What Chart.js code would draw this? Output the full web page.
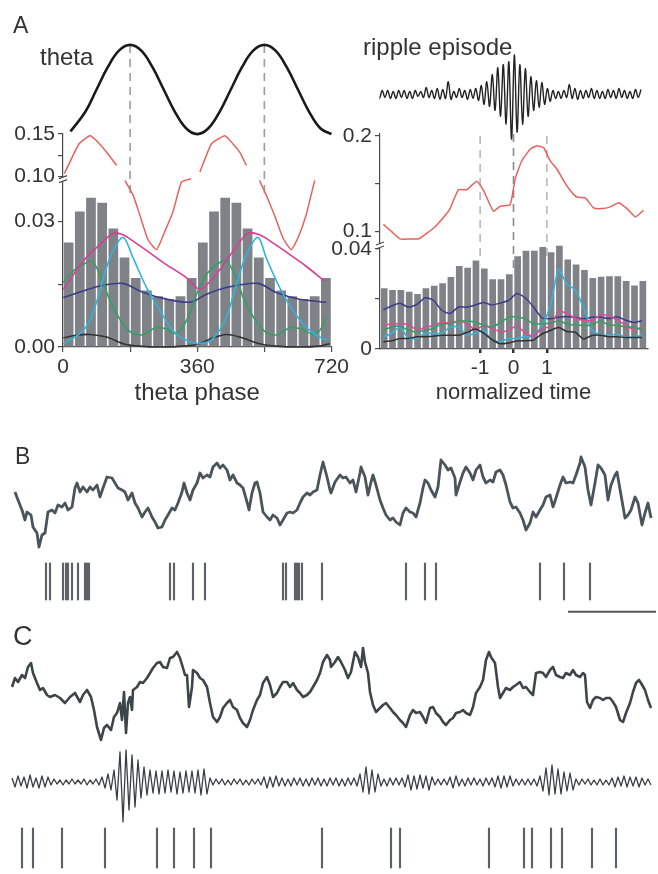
<!DOCTYPE html>
<html><head><meta charset="utf-8">
<script src="https://cdn.jsdelivr.net/npm/chart.js@4/dist/chart.umd.min.js"></script>
<style>
html,body{margin:0;padding:0;background:#fff;}
body{width:658px;height:874px;position:relative;overflow:hidden;font-family:'Liberation Sans',Arial,sans-serif;color:#333;}
canvas{position:absolute;}
.lbl{position:absolute;line-height:1;white-space:nowrap;color:#333;}
</style></head><body>
<canvas id="aL" width="352" height="410" style="left:0;top:0"></canvas>
<canvas id="aR" width="338" height="410" style="left:320px;top:0"></canvas>
<canvas id="bT" width="658" height="120" style="left:0;top:440px"></canvas>
<canvas id="bS" width="658" height="60" style="left:0;top:560px"></canvas>
<canvas id="cT" width="658" height="140" style="left:0;top:620px"></canvas>
<canvas id="cR" width="658" height="85" style="left:0;top:745px"></canvas>
<canvas id="cS" width="658" height="49" style="left:0;top:825px"></canvas>
<div class="lbl" style="left:13px;top:14px;font-size:23px">A</div>
<div class="lbl" style="left:40px;top:45px;font-size:24px">theta</div>
<div class="lbl" style="left:363px;top:35px;font-size:24px">ripple episode</div>
<div class="lbl" style="left:15px;top:445px;font-size:23px">B</div>
<div class="lbl" style="left:13px;top:623px;font-size:27px">C</div>
<script>
// ---------- Panel A, left: theta phase ----------
const phaseTicks = [0, 180, 360, 540, 720];
const phaseLabels = ['0', '', '360', '', '720'];
const leftLowTicks = [0, 0.015, 0.03];
const leftLowLabels = ['0.00', '', '0.03'];
const leftHighTicks = [0.10, 0.125, 0.15];
const leftHighLabels = ['0.10', '', '0.15'];
const thetaPeakPhases = [180, 540];

const thetaPhase = [20, 60, 90, 120, 150, 180, 210, 240, 270, 300, 330, 360, 390, 420, 450, 480, 510, 540, 570, 600, 630, 660, 690, 720];
const thetaVal = [-0.94, -0.5, 0, 0.5, 0.87, 1, 0.87, 0.5, 0, -0.5, -0.87, -1, -0.87, -0.5, 0, 0.5, 0.87, 1, 0.87, 0.5, 0, -0.5, -0.87, -1];

const leftBinPhase = [15, 45, 75, 105, 135, 165, 195, 225, 255, 285, 315, 345, 375, 405, 435, 465, 495, 525, 555, 585, 615, 645, 675, 705];
const leftBinRate = [0.0250, 0.0324, 0.0357, 0.0345, 0.0283, 0.0214, 0.0165, 0.0135, 0.0121, 0.0115, 0.0121, 0.0165,
                     0.0250, 0.0324, 0.0357, 0.0345, 0.0283, 0.0214, 0.0165, 0.0135, 0.0121, 0.0115, 0.0121, 0.0165];

const leftRed = [[3.6,.1035],[42.8,.1384],[72.3,.148],[90,.1422],[117,.1287],[144,.1132],[155,null],[166,.0957],[188,.0783],[206,.055],[228,.0259],[251,.0143],[273,.0357],[295,.0589],[318,.0938],[344,.0977],[355,null],[367,.1054],[398,.1384],[434,.148],[456,.1384],[474,.1287],[492,.1132],[510,null],[527,.0957],[545,.0783],[567,.055],[590,.0279],[612,.0143],[630,.0279],[652,.055],[675,.0957]];
const leftMagenta = [[1,.0138],[54,.0205],[99,.0245],[135,.0272],[161,.0268],[188,.0253],[233,.0225],[277,.0197],[331,.0166],[367,.0138],[411,.0174],[456,.0229],[496,.0272],[527,.0268],[563,.0249],[608,.0221],[652,.0193],[701,.0158]];
const leftCyan = [[1,.0008],[45,.0032],[72,.0063],[99,.0134],[126,.0213],[161,.0262],[188,.0213],[224,.0142],[260,.0087],[295,.0039],[331,.0016],[367,.0008],[402,.0020],[438,.0071],[465,.0150],[492,.0221],[523,.0262],[545,.0213],[581,.0142],[617,.0087],[652,.0047],[688,.0024],[710,.0017]];
const leftGreen = [[1,.0154],[28,.0182],[54,.0197],[77,.0205],[99,.0174],[126,.0111],[161,.0055],[188,.0032],[215,.0030],[251,.0047],[277,.0043],[304,.0032],[331,.0063],[358,.0126],[385,.0174],[411,.0197],[438,.0205],[460,.0174],[487,.0111],[523,.0055],[550,.0032],[576,.0030],[612,.0047],[639,.0043],[666,.0032],[688,.0039],[706,.0071]];
const leftNavy = [[1,.0118],[54,.0134],[99,.0146],[161,.0152],[206,.0134],[260,.0118],[340,.0107],[385,.0126],[438,.0142],[523,.0152],[572,.0130],[634,.0114],[706,.0107]];
const leftBlack = [[1,.0022],[37,.0028],[72,.0030],[117,.0024],[161,.0008],[206,.0002],[260,0],[322,.0002],[367,.0008],[402,.0022],[438,.0030],[474,.0024],[527,.0008],[572,.0002],[634,0],[688,.0002],[715,.0008]];

// ---------- Panel A, right: ripple-normalized time ----------
const timeTicks = [-1, 0, 1];
const timeLabels = ['-1', '0', '1'];
const rightLowTicks = [0, 0.02, 0.04];
const rightLowLabels = ['0', '', '0.04'];
const rightHighTicks = [0.1, 0.15, 0.2];
const rightHighLabels = ['0.1', '', '0.2'];
const rippleMarks = [-1, 0, 1];

const rippleT0 = -4.1, rippleDt = 0.0825;
const rippleTrace = [3,-4,4,-3,4,-4,3,-4,4,-3, 4,-4,3,-4,4,-2,3,-3,7,-3, 4,-4,6,-5,5,-4,13,-5,3,-3,
  6,-3,4,-5,5,-4,6,-6,9,-10, 13,-12,20,-16,27,-22,30,-30,33,-45, 40,-38,30,-30,26,-22,18,-16,14,-13,
  12,-10,6,-7,4,-4,3,-4,4,-3, 10,-4,6,-5,4,-4,4,-3,6,-4, 4,-4,3,-4,5,-3,4,-4,6,-3, 4,-4,3,-4,5,-3,5];

const rightBinTime = [-3.875,-3.625,-3.375,-3.125,-2.875,-2.625,-2.375,-2.125,-1.875,-1.625,-1.375,-1.125,-0.875,-0.625,-0.375,-0.125,
  0.125,0.375,0.625,0.875,1.125,1.375,1.625,1.875,2.125,2.375,2.625,2.875,3.125,3.375,3.625,3.875];
const rightBinRate = [0.0243,0.0236,0.0236,0.0229,0.0220,0.0243,0.0253,0.0263,0.0288,0.0332,0.0325,0.0354,0.0322,0.0279,0.0279,0.0299,
  0.0371,0.0393,0.0393,0.0408,0.0387,0.0413,0.0358,0.0338,0.0316,0.0284,0.0289,0.0291,0.0291,0.0272,0.0254,0.0272];

const rightRed = [[-3.9,.1076],[-3.65,.1],[-3.4,.0924],[-3.1,.0924],[-2.85,.0924],[-2.6,.0983],[-2.35,.1052],[-2.1,.1148],[-1.9,.1241],[-1.65,.1438],[-1.4,.1438],[-1.1,.1528],[-0.9,.1431],[-0.6,.1214],[-0.4,.1266],[-0.1,.1283],[0.05,.1552],[0.25,.1741],[0.5,.1862],[0.7,.1897],[0.9,.1879],[1.1,.1741],[1.3,.1655],[1.5,.1534],[1.7,.1431],[1.9,.1362],[2.15,.1352],[2.4,.1248],[2.65,.1241],[2.9,.1259],[3.15,.1303],[3.4,.1241],[3.65,.1155],[3.9,.1224]];
const rightLineTime = [-3.9,-3.65,-3.4,-3.15,-2.9,-2.65,-2.4,-2.15,-1.9,-1.65,-1.4,-1.15,-0.9,-0.65,-0.4,-0.15,0.1,0.35,0.6,0.85,1.1,1.35,1.6,1.85,2.1,2.35,2.6,2.85,3.1,3.35,3.6,3.85];
const rightNavy = [.0157,.0172,.0183,.0167,.0178,.0205,.0195,.0155,.0142,.0168,.0167,.0176,.0186,.0176,.0184,.0194,.0222,.0205,.0168,.0125,.0121,.0127,.0130,.0126,.0121,.0127,.0128,.0122,.0129,.0116,.0106,.0113];
const rightPink = [.0095,.0100,.0101,.0099,.0077,.0086,.0094,.0107,.0104,.0111,.0102,.0077,.0094,.0083,.0069,.0075,.0092,.0065,.0050,.0082,.0090,.0150,.0143,.0123,.0115,.0114,.0135,.0134,.0116,.0097,.0077,.0087];
const rightGreen = [.0075,.0088,.0091,.0075,.0068,.0075,.0082,.0101,.0101,.0113,.0112,.0108,.0095,.0088,.0104,.0127,.0128,.0121,.0100,.0101,.0104,.0112,.0101,.0095,.0095,.0095,.0113,.0096,.0095,.0088,.0088,.0076];
const rightCyan = [.0049,.0062,.0088,.0042,.0042,.0062,.0062,.0062,.0088,.0088,.0055,.0062,.0075,.0036,.0029,.0042,.0042,.0049,.0049,.0095,.0170,.0318,.0260,.0236,.0165,.0075,.0056,.0055,.0059,.0049,.0046,.0055];
const rightBlack = [.0029,.0033,.0042,.0042,.0049,.0049,.0051,.0055,.0055,.0055,.0066,.0080,.0064,.0038,.0021,.0024,.0032,.0033,.0036,.0060,.0074,.0086,.0070,.0067,.0040,.0054,.0055,.0049,.0049,.0046,.0046,.0046];

// ---------- Panel B ----------
const bLfp = [[15,8],[18,0],[22,-10],[25,-20],[27,-12],[31,-15],[33,-27],[37,-33],[39,-47],[42,-35],[45,-33],[48,-12],[52,-10],[55,-13],[58,-5],[62,-7],[65,-3],[68,-10],[72,-7],[75,12],[77,17],[80,8],[83,13],[87,8],[90,13],[93,10],[97,15],[100,3],[103,12],[107,23],[112,22],[115,17],[118,12],[122,10],[125,8],[128,0],[132,7],[135,-3],[138,-8],[142,-17],[145,-12],[148,-8],[152,-17],[155,-22],[158,-28],[162,-27],[165,-20],[168,-15],[172,-8],[175,-10],[178,-3],[182,8],[184,17],[187,7],[190,0],[193,10],[197,17],[200,27],[203,22],[207,25],[210,23],[213,33],[217,37],[220,32],[223,35],[227,30],[230,20],[233,25],[237,17],[240,15],[243,12],[247,-2],[249,-10],[252,7],[255,17],[257,18],[260,7],[263,-12],[267,-17],[270,-20],[273,-15],[277,-18],[280,-25],[283,-20],[287,-13],[290,-12],[293,-13],[297,-10],[300,-3],[303,3],[307,7],[310,5],[313,8],[317,10],[320,25],[323,38],[327,23],[330,10],
  [331,7],[335,18],[340,25],[343,22],[346,23],[350,17],[353,20],[356,8],[360,27],[361,33],[365,23],[368,5],[371,18],[373,25],[376,15],[380,0],[383,-8],[386,-15],[390,-20],[393,-18],[396,-22],[400,-25],[403,-13],[406,-8],[410,-12],[413,-13],[416,-17],[420,-3],[423,12],[425,20],[428,17],[431,10],[435,3],[438,13],[441,40],[445,35],[448,30],[451,32],[455,22],[456,5],[460,18],[463,27],[466,33],[470,27],[473,20],[476,30],[480,35],[483,23],[486,17],[490,20],[493,18],[496,28],[500,30],[503,25],[506,15],[510,-2],[513,-8],[516,-7],[520,-13],[523,-20],[526,-30],[530,-23],[533,-12],[536,-17],[540,-10],[543,-5],[546,3],[550,5],[553,-7],[556,2],[560,15],[563,23],[566,17],[570,18],[573,17],[576,25],[580,37],[581,43],[585,33],[588,10],[591,-5],[595,17],[598,35],[601,32],[605,25],[608,0],[611,15],[615,25],[617,28],[621,5],[625,-18],[628,-15],[631,-10],[635,3],[638,-3],[642,-25],[645,-13],[648,-3],[651,-18]];
const bSpikes = [46,50,63,66,68,72,78,85,87,89,170,174,193,205,283,286,295,297,299,302,322,406,425,436,540,564,590];
const scaleBarT = [568, 656];
const scaleBarLevel = -0.32;

// ---------- Panel C ----------
const cLfp = [[12,-17],[15,-8],[18,-12],[22,-5],[25,-8],[28,3],[31,7],[33,-3],[37,-13],[40,-20],[43,-18],[47,-25],[50,-27],[55,-25],[60,-28],[65,-33],[70,-27],[75,-23],[80,-32],[83,-25],[87,-20],[91,-27],[94,-40],[97,-57],[101,-70],[104,-58],[107,-55],[111,-60],[114,-47],[117,-43],[120,-33],[122,-50],[124,-22],[126,-63],[128,-33],[130,-27],[132,-40],[133,-20],[137,-17],[140,-12],[143,-13],[147,-8],[150,-3],[153,2],[157,7],[160,8],[163,3],[167,2],[170,12],[173,13],[177,18],[180,12],[183,2],[185,-5],[187,-5],[189,-37],[192,-17],[193,0],[197,-3],[200,-8],[203,-10],[207,-17],[210,-33],[213,-47],[217,-52],[220,-47],[223,-38],[227,-33],[230,-30],[233,-37],[237,-40],[240,-48],[243,-53],[247,-57],[250,-50],[253,-40],[257,-30],[260,-25],[263,-13],[267,-7],[270,-15],[273,-27],[277,-23],[280,-17],[283,-12],[287,-12],[290,-17],[293,-13],[297,-20],[300,-23],[303,-27],[307,-25],[310,-22],[313,-17],[317,-10],[320,-3],[323,8],[327,15],[330,10],
  [331,3],[335,8],[338,13],[341,8],[345,0],[348,-8],[351,-2],[355,18],[358,13],[361,3],[363,22],[365,8],[368,-3],[370,-22],[373,-35],[376,-42],[380,-38],[383,-35],[386,-33],[390,-38],[393,-42],[396,-45],[400,-50],[403,-53],[406,-57],[410,-45],[413,-40],[416,-43],[420,-42],[423,-47],[426,-53],[430,-38],[433,-37],[436,-43],[440,-47],[443,-52],[446,-55],[450,-50],[453,-48],[456,-43],[460,-42],[463,-40],[466,-43],[470,-45],[473,-37],[476,-23],[480,-17],[483,-10],[486,10],[489,18],[491,13],[495,7],[498,-17],[500,-28],[503,-23],[506,-18],[510,-20],[513,-17],[516,-15],[520,-12],[523,-18],[526,-17],[530,-22],[533,-25],[536,-3],[540,-2],[543,-3],[546,-7],[550,0],[553,3],[556,-5],[560,-7],[563,-8],[566,-3],[570,-5],[573,0],[576,-5],[580,-7],[583,-3],[585,-5],[587,-32],[590,-38],[593,-30],[596,-27],[600,-28],[603,-30],[606,-28],[610,-28],[613,-32],[616,-37],[620,-50],[623,-52],[626,-43],[630,-33],[633,-22],[636,-13],[639,-10],[641,-13],[645,-20],[648,-30],[651,-38]];
const cRippleT0 = 12, cRippleDt = 3;
const cRipple = [4,-5,6,-4,5,-6,7,-5,4,-6, 6,-5,5,-3,3,-2,2,-3,2,-2, 3,-2,2,-2,3,-3,2,-2,3,-3,
  5,-6,8,-8,12,-18,30,-40,32,-28, 27,-25,22,-16,15,-13,12,-11,11,-12, 11,-11,12,-10,11,-12,10,-11,11,-10,
  11,-11,12,-13,13,-12,4,-3,3,-2, 3,-3,2,-3,3,-2,3,-3,2,-3, 3,-2,3,-3,5,-6,5,-5,6,-4,
  4,-4,3,-4,4,-3,4,-4,3,-4, 4,-3,4,-4,3,-4,4,-3,4,-4, 3,-4,4,-3,4,-4,8,-10,15,-12,
  12,-10,8,-4,3,-4,4,-3,4,-3, 4,-5,7,-8,6,-7,7,-6,6,-8, 5,-3,3,-3,3,-3,5,-6,6,-4,
  3,-4,4,-3,4,-3,3,-4,4,-3, 4,-5,6,-6,6,-5,6,-4,3,-3, 3,-3,3,-3,3,-4,6,-9,14,-13,
  17,-12,13,-12,10,-9,9,-8,3,-3, 3,-2,3,-3,2,-3,3,-3,2,-3, 4,-5,5,-4,6,-5,5,-4,5,-5, 4,-3,3,-3];
const cSpikes = [22,33,62,105,157,174,194,211,322,391,400,489,524,532,551,562,592,616];

// ---------- styling / helpers ----------
const axisColor = '#4a4a4a';
const textColor = '#333';
Chart.defaults.font.family = "'Liberation Sans', Arial, sans-serif";
Chart.defaults.color = textColor;

function pts(pairs) { return pairs.map(p => ({x: p[0], y: p[1]})); }
function zip(xs, ys) { return xs.map((x, i) => ({x, y: ys[i]})); }

function valueAxis(stack, weight, min, max, tickVals, tickLabels, width) {
  return {
    type: 'linear', position: 'left', stack, stackWeight: weight, min, max,
    afterBuildTicks: s => { s.ticks = tickVals.map(v => ({value: v})); },
    afterFit: s => { s.width = width; },
    ticks: {callback: (v, i) => tickLabels[i], font: {size: 21}, color: textColor, padding: 3, autoSkip: false},
    grid: {drawOnChartArea: false, drawTicks: true, tickLength: 5, color: axisColor, lineWidth: 1.2},
    border: {display: true, color: axisColor, width: 1.2}
  };
}
function hiddenAxis(stack, weight, min, max, width) {
  return {type: 'linear', position: 'left', stack, stackWeight: weight, min, max,
    afterFit: s => { s.width = width; },
    ticks: {display: false}, grid: {display: false}, border: {display: false}};
}
function guides(lines) {
  return {
    id: 'guides',
    beforeDatasetsDraw(chart) {
      const ctx = chart.ctx;
      ctx.save();
      for (const g of lines) {
        const px = chart.scales.x.getPixelForValue(g.x);
        const y1 = chart.scales[g.fromAxis].getPixelForValue(g.from);
        const y2 = chart.scales[g.toAxis].getPixelForValue(g.to);
        ctx.strokeStyle = g.color; ctx.lineWidth = 1.6; ctx.setLineDash([8, 6]);
        ctx.beginPath(); ctx.moveTo(px, y1); ctx.lineTo(px, y2); ctx.stroke();
      }
      ctx.restore();
    }
  };
}
const axisBreak = {
  id: 'axisBreak',
  afterDraw(chart) {
    const ctx = chart.ctx;
    const x = chart.chartArea.left, y = chart.scales.y.top;
    ctx.save();
    ctx.fillStyle = '#fff'; ctx.fillRect(x - 5, y - 2, 10, 4);
    ctx.strokeStyle = axisColor; ctx.lineWidth = 1.1;
    ctx.beginPath();
    ctx.moveTo(x - 4, y - 1); ctx.lineTo(x + 4, y - 4);
    ctx.moveTo(x - 4, y + 3); ctx.lineTo(x + 4, y);
    ctx.stroke();
    ctx.restore();
  }
};
const base = {responsive: false, animation: false, devicePixelRatio: 1,
  plugins: {legend: {display: false}, tooltip: {enabled: false}}};
function lineDs(data, axis, color, width, order, tension) {
  return {type: 'line', data, yAxisID: axis, borderColor: color, borderWidth: width, pointRadius: 0,
          tension: tension, order, borderJoinStyle: 'round', spanGaps: false, clip: false};
}

// ---------- chart A left ----------
new Chart(document.getElementById('aL'), {
  type: 'line',
  data: {datasets: [
    lineDs(zip(thetaPhase, thetaVal), 'yt', '#1a1a1a', 2.6, 1, 0.4),
    lineDs(pts(leftRed), 'yr', '#e9615c', 1.5, 2, 0.15),
    lineDs(pts(leftMagenta), 'y', '#d93d98', 1.6, 3, 0.3),
    lineDs(pts(leftCyan), 'y', '#33b2dd', 1.6, 4, 0.3),
    lineDs(pts(leftGreen), 'y', '#33a062', 1.6, 5, 0.3),
    lineDs(pts(leftNavy), 'y', '#3d3b8c', 1.6, 6, 0.3),
    lineDs(pts(leftBlack), 'y', '#333333', 1.6, 7, 0.3),
    {type: 'bar', data: zip(leftBinPhase, leftBinRate), yAxisID: 'y', backgroundColor: '#7f8287',
     barPercentage: 0.87, categoryPercentage: 1, order: 20}
  ]},
  options: Object.assign({}, base, {
    layout: {padding: {top: 40, bottom: 4.8, left: 0, right: 0}},
    scales: {
      x: {type: 'linear', min: 0, max: 720, offset: false,
          afterBuildTicks: s => { s.ticks = phaseTicks.map(v => ({value: v})); },
          ticks: {callback: (v, i) => phaseLabels[i], font: {size: 21}, color: textColor, padding: 3, maxRotation: 0, autoSkip: false},
          grid: {drawOnChartArea: false, tickLength: 5, color: axisColor, lineWidth: 1.2, offset: false},
          border: {color: axisColor, width: 1.2},
          title: {display: true, text: 'theta phase', font: {size: 24, lineHeight: 1}, padding: {top: -2, bottom: 0}, color: textColor}},
      y: valueAxis('a', 169, 0, 0.04, leftLowTicks, leftLowLabels, 63),
      yr: valueAxis('a', 46, 0.0965, 0.15, leftHighTicks, leftHighLabels, 63),
      yt: hiddenAxis('a', 95, -1, 1.11, 63)
    }
  }),
  plugins: [guides(thetaPeakPhases.map(p => ({x: p, fromAxis: 'yt', from: 1, toAxis: 'y', to: 0.036, color: '#9d9d9d'}))), axisBreak]
});

// ---------- chart A right ----------
new Chart(document.getElementById('aR'), {
  type: 'line',
  data: {datasets: [
    lineDs(rippleTrace.map((v, i) => ({x: rippleT0 + i * rippleDt, y: v})), 'yt', '#222222', 1.4, 1, 0.35),
    lineDs(pts(rightRed), 'yr', '#e9615c', 1.5, 2, 0.15),
    lineDs(zip(rightLineTime, rightBlack), 'y', '#333333', 1.5, 3, 0.2),
    lineDs(zip(rightLineTime, rightGreen), 'y', '#33a062', 1.5, 4, 0.2),
    lineDs(zip(rightLineTime, rightPink), 'y', '#df4a9c', 1.5, 5, 0.2),
    lineDs(zip(rightLineTime, rightCyan), 'y', '#33b2dd', 1.6, 6, 0.2),
    lineDs(zip(rightLineTime, rightNavy), 'y', '#3d3b8c', 1.5, 7, 0.2),
    {type: 'bar', data: zip(rightBinTime, rightBinRate), yAxisID: 'y', backgroundColor: '#7f8287',
     barPercentage: 0.8, categoryPercentage: 1, order: 20, clip: false}
  ]},
  options: Object.assign({}, base, {
    layout: {padding: {top: 40, bottom: 5.8, left: 0, right: 11}},
    scales: {
      x: {type: 'linear', min: -4, max: 4, offset: false,
          afterBuildTicks: s => { s.ticks = timeTicks.map(v => ({value: v})); },
          ticks: {callback: (v, i) => timeLabels[i], font: {size: 21}, color: textColor, padding: 3, maxRotation: 0, autoSkip: false},
          grid: {drawOnChartArea: false, tickLength: 4, color: '#333', lineWidth: 2.5, offset: false},
          border: {color: axisColor, width: 1.2},
          title: {display: true, text: 'normalized time', font: {size: 22, lineHeight: 1}, padding: {top: -2, bottom: 0}, color: textColor}},
      y: valueAxis('b', 104, 0, 0.0412, rightLowTicks, rightLowLabels, 60),
      yr: valueAxis('b', 113, 0.085, 0.202, rightHighTicks, rightHighLabels, 60),
      yt: hiddenAxis('b', 95, -40, 55, 60)
    }
  }),
  plugins: [guides(rippleMarks.map(t => ({x: t, fromAxis: 'yr', from: t === 0 ? 0.202 : 0.2, toAxis: 'y', to: t === 0 ? 0.032 : 0.036, color: t === 0 ? '#8a8a8a' : '#b8b8b8'}))), axisBreak]
});

// ---------- traces ----------
function traceOpts(ymin, ymax) {
  return Object.assign({}, base, {
    layout: {padding: 0},
    scales: {x: {type: 'linear', min: 0, max: 658, display: false, offset: false},
             y: {type: 'linear', min: ymin, max: ymax, display: false}}
  });
}
function traceChart(id, data, color, width, ymin, ymax) {
  return new Chart(document.getElementById(id), {
    type: 'line',
    data: {datasets: [{data, borderColor: color, borderWidth: width, pointRadius: 0, tension: 0, borderJoinStyle: 'round'}]},
    options: traceOpts(ymin, ymax)
  });
}
function rasterChart(id, spikes, ymin, ymax, extra) {
  const ds = [{type: 'bar', data: spikes.map(t => ({x: t, y: [0, 1]})), backgroundColor: '#5e6267', barThickness: 1.5}];
  if (extra) ds.push(extra);
  return new Chart(document.getElementById(id), {
    type: 'bar',
    data: {datasets: ds},
    options: traceOpts(ymin, ymax)
  });
}

traceChart('bT', pts(bLfp), '#4a5459', 2.8, -60, 60);
rasterChart('bS', bSpikes, -0.541, 1.081,
  {type: 'line', data: scaleBarT.map(t => ({x: t, y: scaleBarLevel})), borderColor: '#555', borderWidth: 2, pointRadius: 0});
traceChart('cT', pts(cLfp), '#3e4549', 2.6, -90, 50);
traceChart('cR', cRipple.map((v, i) => ({x: cRippleT0 + i * cRippleDt, y: v})), '#3a3f44', 1.3, -48, 37);
rasterChart('cS', cSpikes, -0.15, 1.075);
</script>
</body></html>
